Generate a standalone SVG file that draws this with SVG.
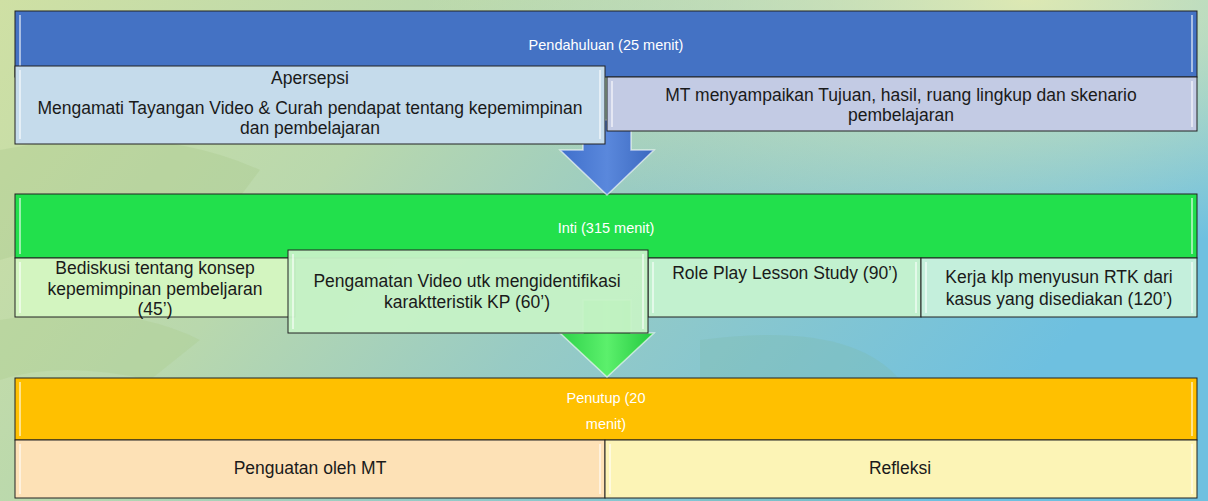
<svg xmlns="http://www.w3.org/2000/svg" width="1208" height="501" viewBox="0 0 1208 501">
<defs>
<linearGradient id="bg" x1="0" y1="0" x2="1" y2="0.35">
<stop offset="0" stop-color="#cfe0a4"/>
<stop offset="0.35" stop-color="#b9d8ad"/>
<stop offset="0.6" stop-color="#98cbc4"/>
<stop offset="1" stop-color="#6ec0e0"/>
</linearGradient>
<radialGradient id="glow" cx="0.85" cy="0" r="0.5">
<stop offset="0" stop-color="#e6ecb0" stop-opacity="0.9"/>
<stop offset="1" stop-color="#e6ecb0" stop-opacity="0"/>
</radialGradient>
<linearGradient id="blueArrow" x1="0" y1="0" x2="1" y2="0">
<stop offset="0" stop-color="#3f6fcb"/>
<stop offset="0.5" stop-color="#5a88dc"/>
<stop offset="1" stop-color="#3b68bf"/>
</linearGradient>
<linearGradient id="greenArrow" x1="0" y1="0" x2="1" y2="0">
<stop offset="0" stop-color="#2ed24a"/>
<stop offset="0.5" stop-color="#5cf06c"/>
<stop offset="1" stop-color="#22c83e"/>
</linearGradient>
<style>
.hdr{stroke:#222;stroke-width:1}
.box{stroke:#222;stroke-width:1}
.bevel{fill:none;stroke:#fff;stroke-opacity:0.55;stroke-width:2}
.ht{font-family:"Liberation Sans",Arial,sans-serif;font-size:14.5px;fill:#fff;text-anchor:middle}
.bt{font-family:"Liberation Sans",Arial,sans-serif;font-size:17.5px;fill:#1a1a1a;text-anchor:middle}
.arr{stroke:#fff;stroke-opacity:0.6;stroke-width:1.5}
</style>
</defs>
<g id="background">
<rect x="0" y="0" width="1208" height="501" fill="url(#bg)"/>
<rect x="0" y="0" width="1208" height="501" fill="url(#glow)"/>
<path d="M0 150 Q150 120 260 170 L200 250 Q100 230 0 260 Z" fill="#a8c98c" opacity="0.35"/>
<path d="M0 320 Q120 300 200 340 L150 380 Q60 360 0 380 Z" fill="#a8c98c" opacity="0.3"/>
<path d="M700 340 Q850 320 900 380 L900 501 L700 501 Z" fill="#7fb9a8" opacity="0.3"/>
</g>

<g id="pendahuluan">
<rect class="hdr" x="15" y="11" width="1182" height="66" fill="#4472c4"/>
<line x1="20" y1="15" x2="20" y2="72" class="bevel"/>
<line x1="1192" y1="15" x2="1192" y2="72" class="bevel"/>
<text class="ht" x="606" y="50">Pendahuluan (25 menit)</text>
</g>

<g id="inti">
<rect class="hdr" x="15" y="194" width="1182" height="64" fill="#22e04c"/>
<line x1="20" y1="198" x2="20" y2="254" class="bevel"/>
<line x1="1192" y1="198" x2="1192" y2="254" class="bevel"/>
<text class="ht" x="606" y="233">Inti (315 menit)</text>
</g>

<g id="penutup">
<rect class="hdr" x="15" y="378" width="1182" height="62" fill="#ffc000"/>
<line x1="20" y1="382" x2="20" y2="436" class="bevel" stroke="#ffe680"/>
<line x1="1192" y1="382" x2="1192" y2="436" class="bevel"/>
<text class="ht" x="606" y="403">Penutup (20</text>
<text class="ht" x="606" y="429">menit)</text>
</g>

<g id="connectors">
<polygon class="arr" points="583,120 631,120 631,150 654,150 607,195 560,150 583,150" fill="url(#blueArrow)"/>
<polygon class="arr" points="583,300 631,300 631,333 654,333 607,377 560,333 583,333" fill="url(#greenArrow)"/>
</g>

<g id="apersepsi">
<rect class="box" x="15" y="66" width="590" height="78" fill="#c5dbeb"/>
<line x1="20" y1="70" x2="20" y2="139" class="bevel"/>
<line x1="600" y1="70" x2="600" y2="139" class="bevel"/>
<text class="bt" x="310" y="84">Apersepsi</text>
<text class="bt" x="310" y="114">Mengamati Tayangan Video &amp; Curah pendapat tentang  kepemimpinan</text>
<text class="bt" x="310" y="134">dan pembelajaran</text>
</g>

<g id="mt-tujuan">
<rect class="box" x="607" y="77" width="590" height="54" fill="#c3cbe4"/>
<line x1="612" y1="81" x2="612" y2="127" class="bevel"/>
<line x1="1192" y1="81" x2="1192" y2="127" class="bevel"/>
<text class="bt" x="901" y="101">MT menyampaikan Tujuan, hasil, ruang lingkup dan skenario</text>
<text class="bt" x="901" y="121">pembelajaran</text>
</g>

<g id="bediskusi">
<rect class="box" x="15" y="258" width="280" height="59" fill="#d3f5c0"/>
<line x1="20" y1="262" x2="20" y2="313" class="bevel"/>
<text class="bt" x="155" y="274">Bediskusi tentang konsep</text>
<text class="bt" x="155" y="295">kepemimpinan pembeljaran</text>
<text class="bt" x="155" y="315">(45’)</text>
</g>

<g id="roleplay">
<rect class="box" x="648" y="258" width="273" height="59" fill="#c2f1cf"/>
<line x1="653" y1="262" x2="653" y2="313" class="bevel"/>
<line x1="916" y1="262" x2="916" y2="313" class="bevel"/>
<text class="bt" x="785" y="279">Role Play Lesson Study (90’)</text>
</g>

<g id="kerja">
<rect class="box" x="921" y="258" width="276" height="59" fill="#c4efdc"/>
<line x1="926" y1="262" x2="926" y2="313" class="bevel"/>
<line x1="1192" y1="262" x2="1192" y2="313" class="bevel"/>
<text class="bt" x="1059" y="283">Kerja klp menyusun RTK dari</text>
<text class="bt" x="1059" y="305">kasus yang disediakan (120’)</text>
</g>

<g id="pengamatan">
<rect class="box" x="288" y="250" width="360" height="83" fill="#c6f2c6" fill-opacity="0.95"/>
<line x1="293" y1="254" x2="293" y2="329" class="bevel"/>
<line x1="643" y1="254" x2="643" y2="329" class="bevel"/>
<text class="bt" x="467" y="287">Pengamatan Video utk mengidentifikasi</text>
<text class="bt" x="467" y="308">karaktteristik KP (60’)</text>
</g>

<g id="penguatan">
<rect class="box" x="15" y="440" width="590" height="58" fill="#fde1b6"/>
<line x1="20" y1="444" x2="20" y2="494" class="bevel"/>
<line x1="600" y1="444" x2="600" y2="494" class="bevel"/>
<text class="bt" x="310" y="474">Penguatan oleh MT</text>
</g>

<g id="refleksi">
<rect class="box" x="605" y="440" width="592" height="58" fill="#fcf4b6"/>
<line x1="610" y1="444" x2="610" y2="494" class="bevel"/>
<line x1="1192" y1="444" x2="1192" y2="494" class="bevel"/>
<text class="bt" x="900" y="474">Refleksi</text>
</g>
</svg>
